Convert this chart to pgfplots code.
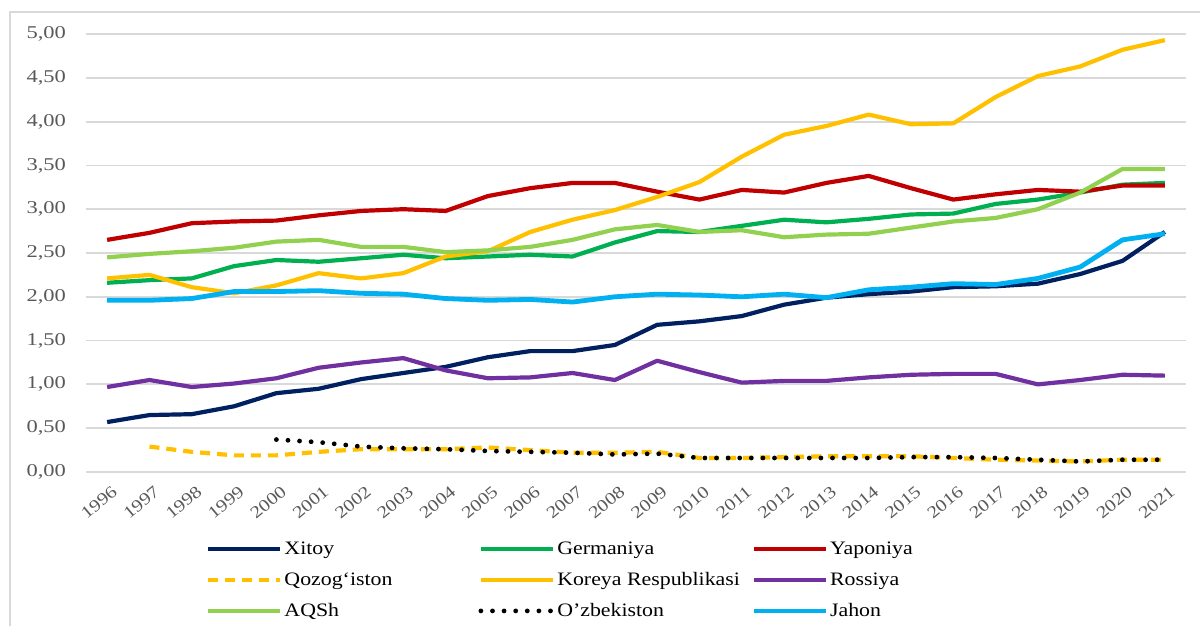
\documentclass[border=0pt]{standalone}
\usepackage{fontspec}
\setmainfont{Liberation Serif}
\newfontfamily\tickfont[FakeStretch=1.25]{Liberation Serif}
\newfontfamily\xtickfont[FakeStretch=1.2]{Liberation Serif}
\newfontfamily\legfont[FakeStretch=1.15]{Liberation Serif}
\usepackage{pgfplots}
\usepackage{pgfplotstable}
\pgfplotsset{compat=1.18}
\definecolor{cXitoy}{HTML}{002060}
\definecolor{cGer}{HTML}{00B050}
\definecolor{cYap}{HTML}{C00000}
\definecolor{cGold}{HTML}{FFC000}
\definecolor{cRos}{HTML}{7030A0}
\definecolor{cAQSh}{HTML}{92D050}
\definecolor{cJahon}{HTML}{00B0F0}
\definecolor{cTick}{HTML}{595959}
\definecolor{cGrid}{HTML}{D9D9D9}

\pgfplotstableread{
year Xitoy Germaniya Yaponiya Qozog Koreya Rossiya AQSh Uzb Jahon
1996 0.57 2.16 2.65 nan  2.21 0.97 2.45 nan  1.96
1997 0.65 2.19 2.73 0.29 2.25 1.05 2.49 nan  1.96
1998 0.66 2.21 2.84 0.23 2.11 0.97 2.52 nan  1.98
1999 0.75 2.35 2.86 0.19 2.04 1.01 2.56 nan  2.06
2000 0.90 2.42 2.87 0.19 2.13 1.07 2.63 0.37 2.06
2001 0.95 2.40 2.93 0.23 2.27 1.19 2.65 0.34 2.07
2002 1.06 2.44 2.98 0.26 2.21 1.25 2.57 0.29 2.04
2003 1.13 2.48 3.00 0.26 2.27 1.30 2.57 0.27 2.03
2004 1.20 2.44 2.98 0.26 2.46 1.16 2.51 0.26 1.98
2005 1.31 2.46 3.15 0.28 2.52 1.07 2.53 0.24 1.96
2006 1.38 2.48 3.24 0.25 2.74 1.08 2.57 0.23 1.97
2007 1.38 2.46 3.30 0.22 2.88 1.13 2.65 0.22 1.94
2008 1.45 2.62 3.30 0.22 2.99 1.05 2.77 0.20 2.00
2009 1.68 2.75 3.20 0.23 3.14 1.27 2.82 0.21 2.03
2010 1.72 2.74 3.11 0.16 3.31 1.14 2.74 0.16 2.02
2011 1.78 2.81 3.22 0.16 3.60 1.02 2.76 0.16 2.00
2012 1.91 2.88 3.19 0.17 3.85 1.04 2.68 0.16 2.03
2013 1.99 2.85 3.30 0.18 3.95 1.04 2.71 0.16 1.99
2014 2.03 2.89 3.38 0.18 4.08 1.08 2.72 0.16 2.08
2015 2.06 2.94 3.24 0.18 3.97 1.11 2.79 0.17 2.11
2016 2.11 2.95 3.11 0.16 3.98 1.12 2.86 0.17 2.15
2017 2.12 3.06 3.17 0.14 4.28 1.12 2.90 0.16 2.14
2018 2.15 3.11 3.22 0.13 4.52 1.00 3.00 0.14 2.21
2019 2.26 3.19 3.20 0.12 4.63 1.05 3.19 0.12 2.34
2020 2.41 3.28 3.27 0.14 4.82 1.11 3.46 0.14 2.65
2021 2.74 3.30 3.27 0.14 4.93 1.10 3.46 0.14 2.72
}\datatable

\newcommand{\lt}[1]{\hspace{1pt}\makebox[97pt][l]{\legfont #1}}

\begin{document}
\begin{tikzpicture}[x=1pt,y=1pt]
\useasboundingbox (0,0) rectangle (600,313);
\draw[cGrid, line width=0.9pt] (5,-10) rectangle (610,307);
\begin{axis}[
  at={(43pt,77pt)}, anchor=south west,
  scale only axis, width=550pt, height=219pt,
  xmin=1995.5, xmax=2021.5, ymin=0, ymax=5,
  xtick={1996,1997,...,2021},
  ytick={0,0.5,1,1.5,2,2.5,3,3.5,4,4.5,5},
  axis line style={draw=none},
  major tick length=0pt,
  ymajorgrids,
  grid style={cGrid, line width=0.9pt},
  tick label style={text=cTick},
  /pgf/number format/assume math mode=true,
  xticklabel style={font=\xtickfont\fontsize{8.5}{9}\selectfont, /pgf/number format/1000 sep={}, rotate=40, anchor=north east, inner sep=0pt, text depth=0pt, xshift=-2.5pt, yshift=-6pt},
  yticklabel style={font=\tickfont\fontsize{9}{10}\selectfont, /pgf/number format/.cd, fixed, fixed zerofill, precision=2, use comma, /tikz/.cd, xshift=-6.5pt},
  legend columns=3,
  legend cell align=left,
  legend image code/.code={\draw[#1] (0pt,0pt) -- (36pt,0pt);},
  legend style={draw=none, fill=none, at={(0.109,-0.153)}, anchor=north west,
    inner xsep=0pt, inner ysep=0pt, column sep=0pt, row sep=6pt,
    nodes={inner sep=0pt, text depth=0.2em, text height=0.75em},
    font=\fontsize{9.5}{11}\selectfont},
  every axis plot/.append style={line width=2.1pt, line join=round},
]
\addplot[cXitoy] table[x=year, y=Xitoy] {\datatable};
\addlegendentry{\lt{Xitoy}}
\addplot[cGer] table[x=year, y=Germaniya] {\datatable};
\addlegendentry{\lt{Germaniya}}
\addplot[cYap] table[x=year, y=Yaponiya] {\datatable};
\addlegendentry{\lt{Yaponiya}}
\addplot[cGold, dash pattern=on 5pt off 3.5pt] table[x=year, y=Qozog] {\datatable};
\addlegendentry{\lt{Qozog‘iston}}
\addplot[cGold] table[x=year, y=Koreya] {\datatable};
\addlegendentry{\lt{Koreya Respublikasi}}
\addplot[cRos] table[x=year, y=Rossiya] {\datatable};
\addlegendentry{\lt{Rossiya}}
\addplot[cAQSh] table[x=year, y=AQSh] {\datatable};
\addlegendentry{\lt{AQSh}}
\addplot[black, line width=2.4pt, line cap=round, dash pattern=on 0pt off 5.8pt] table[x=year, y=Uzb] {\datatable};
\addlegendentry{\lt{O’zbekiston}}
\addplot[cJahon, line width=2.4pt] table[x=year, y=Jahon] {\datatable};
\addlegendentry{\lt{Jahon}}
\end{axis}
\end{tikzpicture}
\end{document}
